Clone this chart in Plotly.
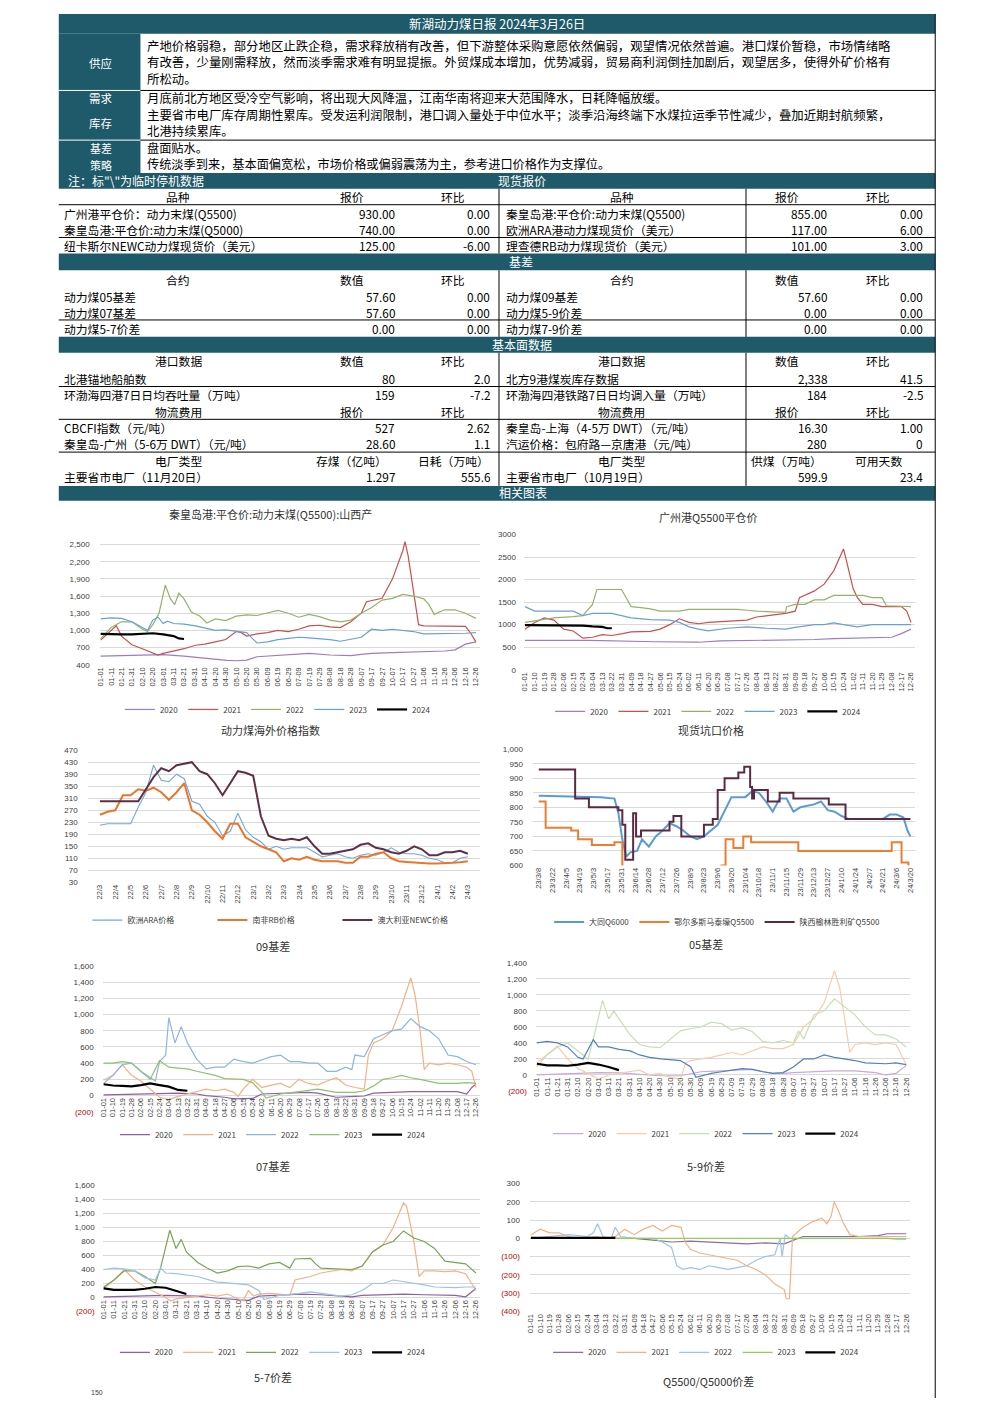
import datetime as dt
import plotly.graph_objects as go

W, H = 992, 1403
TEAL = "#1f5a6a"
CJK = "Noto Sans CJK SC"
NUM = "Liberation Sans"
GRID = "#d9d9d9"
RED_TICK = "#c00000"

# ---------------- 文本 / 表格数据 ----------------
REPORT_TITLE = "新湖动力煤日报 2024年3月26日"
SUPPLY_LINES = [
    "产地价格弱稳，部分地区止跌企稳，需求释放稍有改善，但下游整体采购意愿依然偏弱，观望情况依然普遍。港口煤价暂稳，市场情绪略",
    "有改善，少量刚需释放，然而淡季需求难有明显提振。外贸煤成本增加，优势减弱，贸易商利润倒挂加剧后，观望居多，使得外矿价格有",
    "所松动。",
]
DEMAND_LINES = [
    "月底前北方地区受冷空气影响，将出现大风降温，江南华南将迎来大范围降水，日耗降幅放缓。",
    "主要省市电厂库存周期性累库。受发运利润限制，港口调入量处于中位水平；淡季沿海终端下水煤拉运季节性减少，叠加近期封航频繁，",
    "北港持续累库。",
]
BASIS_LINES = [
    "盘面贴水。",
    "传统淡季到来，基本面偏宽松，市场价格或偏弱震荡为主，参考进口价格作为支撑位。",
]
NOTE_TEXT = '注：标"\\"为临时停机数据'

SPOT_HEAD = ("品种", "报价", "环比")
SPOT_L = [("广州港平仓价：动力末煤(Q5500)", "930.00", "0.00"),
          ("秦皇岛港:平仓价:动力末煤(Q5000)", "740.00", "0.00"),
          ("纽卡斯尔NEWC动力煤现货价（美元）", "125.00", "-6.00")]
SPOT_R = [("秦皇岛港:平仓价:动力末煤(Q5500)", "855.00", "0.00"),
          ("欧洲ARA港动力煤现货价（美元）", "117.00", "6.00"),
          ("理查德RB动力煤现货价（美元）", "101.00", "3.00")]

BASIS_HEAD = ("合约", "数值", "环比")
BASIS_L = [("动力煤05基差", "57.60", "0.00"),
           ("动力煤07基差", "57.60", "0.00"),
           ("动力煤5-7价差", "0.00", "0.00")]
BASIS_R = [("动力煤09基差", "57.60", "0.00"),
           ("动力煤5-9价差", "0.00", "0.00"),
           ("动力煤7-9价差", "0.00", "0.00")]

FUND_L = [("港口数据", "数值", "环比"),
          ("北港锚地船舶数", "80", "2.0"),
          ("环渤海四港7日日均吞吐量（万吨）", "159", "-7.2"),
          ("物流费用", "报价", "环比"),
          ("CBCFI指数（元/吨）", "527", "2.62"),
          ("秦皇岛-广州（5-6万 DWT）（元/吨）", "28.60", "1.1"),
          ("电厂类型", "存煤（亿吨）", "日耗（万吨）"),
          ("主要省市电厂（11月20日）", "1.297", "555.6")]
FUND_R = [("港口数据", "数值", "环比"),
          ("北方9港煤炭库存数据", "2,338", "41.5"),
          ("环渤海四港铁路7日日均调入量（万吨）", "184", "-2.5"),
          ("物流费用", "报价", "环比"),
          ("秦皇岛-上海（4-5万 DWT）（元/吨）", "16.30", "1.00"),
          ("汽运价格：包府路—京唐港（元/吨）", "280", "0"),
          ("电厂类型", "供煤（万吨）", "可用天数"),
          ("主要省市电厂（10月19日）", "599.9", "23.4")]
FUND_HEADER_ROWS = [0, 3, 6]

# ---------------- 图表数据 ----------------
TICKS_10 = ["01-01", "01-11", "01-21", "01-31", "02-10", "02-20", "03-01", "03-11", "03-21", "03-31",
            "04-10", "04-20", "04-30", "05-10", "05-20", "05-30", "06-09", "06-19", "06-29", "07-09",
            "07-19", "07-29", "08-08", "08-18", "08-28", "09-07", "09-17", "09-27", "10-07", "10-17",
            "10-27", "11-06", "11-16", "11-26", "12-06", "12-16", "12-26"]
TICKS_9 = ["01-01", "01-10", "01-19", "01-28", "02-06", "02-15", "02-24", "03-04", "03-13", "03-22",
           "03-31", "04-09", "04-18", "04-27", "05-06", "05-15", "05-24", "06-02", "06-11", "06-20",
           "06-29", "07-08", "07-17", "07-26", "08-04", "08-13", "08-22", "08-31", "09-09", "09-18",
           "09-27", "10-06", "10-15", "10-24", "11-02", "11-11", "11-20", "11-29", "12-08", "12-17",
           "12-26"]

# 秦皇岛港 Q5500 山西产
QHD = {
    "2020": [("01-01", 550), ("01-21", 560), ("02-10", 575), ("02-20", 580), ("03-01", 575), ("03-21", 550),
             ("04-10", 510), ("04-20", 490), ("05-01", 475), ("05-10", 470), ("05-20", 480), ("05-30", 540),
             ("06-09", 550), ("06-29", 580), ("07-09", 590), ("07-19", 600), ("08-08", 570), ("08-28", 560),
             ("09-07", 580), ("09-17", 600), ("10-07", 610), ("10-27", 620), ("11-16", 630), ("11-26", 640),
             ("12-06", 660), ("12-16", 760), ("12-26", 800)],
    "2021": [("01-01", 830), ("01-11", 1000), ("01-16", 1080), ("01-21", 900), ("01-31", 750), ("02-10", 680),
             ("02-20", 600), ("02-25", 570), ("03-01", 600), ("03-11", 640), ("03-21", 680), ("04-01", 740),
             ("04-10", 760), ("04-20", 800), ("04-30", 840), ("05-10", 980), ("05-15", 960), ("05-20", 900),
             ("05-30", 940), ("06-09", 960), ("06-19", 1000), ("06-29", 980), ("07-09", 1020), ("07-19", 1080),
             ("07-29", 1090), ("08-08", 1060), ("08-18", 1050), ("08-28", 1150), ("09-07", 1300), ("09-12", 1500),
             ("09-27", 1560), ("10-07", 1900), ("10-12", 2150), ("10-17", 2400), ("10-19", 2550), ("10-22", 2300),
             ("10-27", 1700), ("11-01", 1100), ("11-06", 1080), ("11-26", 1080), ("12-06", 1080), ("12-16", 1070),
             ("12-21", 950), ("12-26", 800)],
    "2022": [("01-01", 850), ("01-11", 1050), ("01-21", 1150), ("01-31", 1150), ("02-10", 1020), ("02-15", 980),
             ("02-20", 1100), ("02-26", 1300), ("03-03", 1790), ("03-08", 1550), ("03-12", 1450), ("03-16", 1650),
             ("03-21", 1550), ("03-28", 1320), ("04-05", 1250), ("04-12", 1130), ("04-20", 1200), ("04-30", 1170),
             ("05-10", 1250), ("05-20", 1270), ("05-30", 1260), ("06-09", 1300), ("06-19", 1350), ("06-29", 1300),
             ("07-09", 1230), ("07-19", 1280), ("07-29", 1240), ("08-08", 1180), ("08-18", 1150), ("08-28", 1180),
             ("09-07", 1300), ("09-17", 1400), ("09-27", 1530), ("10-07", 1560), ("10-17", 1630), ("10-27", 1600),
             ("11-06", 1550), ("11-11", 1450), ("11-16", 1280), ("11-26", 1360), ("12-06", 1360), ("12-16", 1300),
             ("12-26", 1210)],
    "2023": [("01-01", 1200), ("01-11", 1220), ("01-21", 1210), ("01-31", 1150), ("02-10", 1050), ("02-15", 1000),
             ("02-20", 1180), ("02-25", 1230), ("03-01", 1120), ("03-05", 1160), ("03-11", 1120), ("03-21", 1110),
             ("04-01", 1080), ("04-10", 1040), ("04-20", 1000), ("04-30", 1010), ("05-10", 980), ("05-20", 960),
             ("05-25", 870), ("05-30", 780), ("06-09", 800), ("06-19", 840), ("06-29", 860), ("07-09", 880),
             ("07-19", 870), ("07-29", 860), ("08-08", 840), ("08-18", 810), ("08-28", 840), ("09-07", 880),
             ("09-17", 1020), ("09-27", 1000), ("10-07", 1020), ("10-17", 1000), ("10-27", 980), ("11-06", 940),
             ("11-16", 940), ("11-26", 950), ("12-06", 950), ("12-16", 950), ("12-26", 960)],
    "2024": [("01-01", 940), ("01-11", 930), ("01-21", 930), ("01-31", 930), ("02-10", 940), ("02-20", 950),
             ("03-01", 930), ("03-11", 900), ("03-16", 860), ("03-21", 850)],
}

# 广州港 Q5500 平仓价
GZ = {
    "2020": [("01-01", 650), ("03-01", 650), ("05-01", 620), ("06-11", 610), ("07-01", 640), ("08-01", 650),
             ("09-01", 650), ("09-27", 670), ("10-15", 690), ("11-11", 700), ("12-08", 720), ("12-17", 800),
             ("12-26", 900)],
    "2021": [("01-01", 900), ("01-10", 1050), ("01-19", 1150), ("01-28", 1100), ("02-06", 900), ("02-15", 860),
             ("02-24", 700), ("03-04", 720), ("03-13", 780), ("03-22", 760), ("04-01", 800), ("04-09", 840),
             ("04-27", 850), ("05-06", 900), ("05-15", 1000), ("05-24", 1130), ("06-02", 1050), ("06-11", 1020),
             ("06-20", 1050), ("07-08", 1080), ("07-26", 1100), ("08-04", 1170), ("08-13", 1200), ("08-31", 1250),
             ("09-09", 1300), ("09-13", 1600), ("09-27", 1750), ("10-06", 1900), ("10-15", 2200), ("10-24", 2680),
             ("10-27", 2400), ("11-02", 1800), ("11-06", 1600), ("11-11", 1450), ("11-20", 1450), ("11-29", 1400),
             ("12-17", 1400), ("12-22", 1300), ("12-26", 1050)],
    "2022": [("01-01", 1050), ("01-28", 1150), ("02-15", 1180), ("02-24", 1200), ("03-04", 1450), ("03-08", 1780),
             ("03-31", 1780), ("04-05", 1550), ("04-09", 1400), ("04-18", 1380), ("04-27", 1350), ("05-06", 1300),
             ("05-24", 1300), ("06-02", 1340), ("07-17", 1340), ("07-26", 1320), ("08-04", 1300), ("08-22", 1280),
             ("08-31", 1280), ("09-01", 1400), ("09-09", 1450), ("09-18", 1450), ("09-27", 1550), ("10-06", 1550),
             ("10-15", 1650), ("11-11", 1650), ("11-20", 1600), ("11-29", 1600), ("12-03", 1420), ("12-26", 1400)],
    "2023": [("01-01", 1400), ("01-10", 1300), ("02-06", 1300), ("02-15", 1300), ("02-24", 1200), ("03-04", 1250),
             ("03-22", 1250), ("03-31", 1200), ("04-09", 1150), ("04-27", 1110), ("05-15", 1100), ("05-24", 1050),
             ("06-02", 950), ("06-11", 900), ("06-20", 860), ("07-08", 920), ("07-26", 950), ("08-13", 920),
             ("08-31", 900), ("09-09", 940), ("09-27", 1000), ("10-06", 1000), ("10-15", 1040), ("10-24", 1000),
             ("11-06", 950), ("11-20", 1000), ("12-08", 1000), ("12-26", 1000)],
    "2024": [("01-01", 990), ("02-15", 990), ("02-24", 980), ("03-04", 960), ("03-13", 950), ("03-18", 920),
             ("03-22", 920)],
}

# 动力煤海外价格指数（半月一个点，22/3 ~ 24/3）
OVERSEA_TICKS = ["22/3", "22/4", "22/5", "22/6", "22/7", "22/8", "22/9", "22/10", "22/11", "22/12",
                 "23/1", "23/2", "23/3", "23/4", "23/5", "23/6", "23/7", "23/8", "23/9", "23/10",
                 "23/11", "23/12", "24/1", "24/2", "24/3"]
ARA = [220, 225, 225, 225, 225, 280, 330, 420, 370, 365, 390, 375, 300, 290, 250, 230, 185, 200, 260, 205,
       180, 165, 140, 150, 140, 145, 145, 145, 130, 115, 120, 125, 115, 110, 120, 125, 120, 130, 145, 130,
       125, 125, 120, 110, 105, 95, 95, 110, 115]
RB = [255, 265, 270, 320, 320, 340, 335, 345, 330, 305, 330, 360, 270, 255, 230, 200, 175, 225, 225, 180,
      165, 150, 140, 130, 100, 110, 105, 115, 105, 100, 100, 100, 95, 95, 115, 115, 125, 130, 110, 100,
      98, 96, 95, 93, 93, 93, 95, 97, 100]
NEWC = [300, 300, 300, 300, 300, 300, 340, 380, 410, 400, 420, 425, 430, 400, 390, 360, 320, 360, 400, 395,
        385, 250, 185, 175, 170, 175, 170, 180, 150, 125, 125, 130, 135, 140, 155, 160, 145, 140, 130, 125,
        135, 150, 140, 120, 120, 130, 130, 135, 125]

# 现货坑口价格
PIT_TICKS = ["2023-03-08", "2023-03-22", "2023-04-05", "2023-04-19", "2023-05-03", "2023-05-17", "2023-05-31",
             "2023-06-14", "2023-06-28", "2023-07-12", "2023-07-26", "2023-08-09", "2023-08-23", "2023-09-06",
             "2023-09-20", "2023-10-04", "2023-10-18", "2023-11-01", "2023-11-15", "2023-11-29", "2023-12-13",
             "2023-12-27", "2024-01-10", "2024-01-24", "2024-02-07", "2024-02-21", "2024-03-06", "2024-03-20"]
DATONG = [("2023-03-08", 840), ("2023-05-10", 835), ("2023-05-24", 830), ("2023-05-28", 780), ("2023-06-01", 690),
          ("2023-06-05", 630), ("2023-06-09", 645), ("2023-06-16", 650), ("2023-06-21", 690), ("2023-06-28", 665),
          ("2023-07-05", 700), ("2023-07-12", 720), ("2023-07-19", 745), ("2023-07-26", 735), ("2023-08-02", 720),
          ("2023-08-09", 700), ("2023-08-16", 690), ("2023-08-23", 700), ("2023-09-06", 740), ("2023-09-13", 790),
          ("2023-09-20", 835), ("2023-10-04", 835), ("2023-10-11", 855), ("2023-10-18", 850), ("2023-10-25", 820),
          ("2023-11-01", 785), ("2023-11-08", 830), ("2023-11-15", 830), ("2023-11-22", 785), ("2023-11-29", 800),
          ("2023-12-13", 810), ("2023-12-20", 820), ("2023-12-27", 790), ("2024-01-03", 785), ("2024-01-10", 770),
          ("2024-01-17", 760), ("2024-02-21", 760), ("2024-02-28", 775), ("2024-03-06", 775), ("2024-03-13", 765),
          ("2024-03-17", 720), ("2024-03-20", 700)]
MATAIHAO = [("2023-03-08", 820), ("2023-03-15", 730), ("2023-04-10", 720), ("2023-04-17", 690), ("2023-05-01", 670),
            ("2023-05-24", 680), ("2023-06-01", 560), ("2023-09-10", 600), ("2023-09-14", 690), ("2023-09-22", 660),
            ("2023-10-02", 700), ("2023-10-10", 680), ("2023-11-27", 650), ("2024-03-01", 680), ("2024-03-11", 610),
            ("2024-03-18", 590), ("2024-03-20", 590)]
YULIN = [("2023-03-08", 930), ("2023-04-14", 830), ("2023-04-28", 800), ("2023-05-28", 790), ("2023-06-01", 740),
         ("2023-06-04", 620), ("2023-06-12", 780), ("2023-06-15", 700), ("2023-06-20", 720), ("2023-07-19", 750),
         ("2023-07-23", 770), ("2023-07-31", 700), ("2023-08-23", 740), ("2023-09-01", 760), ("2023-09-06", 860),
         ("2023-09-13", 900), ("2023-09-27", 920), ("2023-10-03", 940), ("2023-10-09", 870), ("2023-10-11", 830),
         ("2023-10-13", 860), ("2023-10-27", 820), ("2023-11-08", 850), ("2023-11-22", 830), ("2023-12-28", 810),
         ("2024-01-14", 760), ("2024-03-20", 760)]

# 09基差
B09 = {
    "2020": [("01-01", 10), ("02-06", 15), ("02-24", 25), ("03-13", 30), ("03-31", 20), ("04-09", 0), ("04-27", -20),
             ("05-06", -40), ("05-24", -35), ("06-02", 20), ("06-29", 30), ("07-17", 40), ("07-26", 30),
             ("08-13", -20), ("08-31", -10), ("09-09", -5), ("09-18", 30), ("10-06", 40), ("10-24", 50),
             ("11-11", 50), ("12-08", 50), ("12-17", 20), ("12-22", 100), ("12-26", 140)],
    "2021": [("01-01", 190), ("01-10", 250), ("01-19", 380), ("01-28", 250), ("02-06", 180), ("02-15", 80),
             ("02-24", -20), ("03-04", -50), ("03-13", -10), ("03-22", 20), ("03-31", 50), ("04-09", 80),
             ("04-18", 60), ("04-27", 80), ("05-06", 40), ("05-10", -10), ("05-15", 80), ("05-24", 200),
             ("06-02", 100), ("06-11", 130), ("06-20", 150), ("06-29", 100), ("07-08", 200), ("07-17", 150),
             ("07-26", 130), ("08-04", 180), ("08-13", 220), ("08-22", 130), ("08-31", 100), ("09-09", 80),
             ("09-13", 500), ("09-18", 650), ("09-27", 700), ("10-06", 800), ("10-15", 1100), ("10-24", 1450),
             ("10-28", 1250), ("11-02", 800), ("11-06", 320), ("11-11", 400), ("11-20", 380), ("11-29", 400),
             ("12-08", 380), ("12-17", 350), ("12-22", 300), ("12-26", 100)],
    "2022": [("01-01", 150), ("01-10", 250), ("01-19", 380), ("01-28", 400), ("02-06", 300), ("02-15", 220),
             ("02-20", 180), ("02-24", 420), ("03-01", 500), ("03-04", 960), ("03-10", 650), ("03-16", 850),
             ("03-22", 650), ("03-31", 450), ("04-09", 330), ("04-18", 350), ("04-27", 350), ("05-06", 450),
             ("05-15", 420), ("05-24", 400), ("06-02", 440), ("06-11", 480), ("06-20", 500), ("06-29", 420),
             ("07-08", 420), ("07-17", 400), ("07-26", 400), ("08-04", 300), ("08-13", 300), ("08-22", 350),
             ("08-28", 320), ("08-31", 500), ("09-09", 480), ("09-18", 700), ("09-27", 750), ("10-06", 800),
             ("10-15", 820), ("10-24", 950), ("11-02", 850), ("11-11", 800), ("11-20", 700), ("11-29", 500),
             ("12-08", 480), ("12-17", 420), ("12-26", 380)],
    "2023": [("01-01", 400), ("01-10", 400), ("01-19", 420), ("01-28", 400), ("02-06", 300), ("02-15", 200),
             ("02-24", 430), ("03-04", 350), ("03-13", 340), ("03-22", 330), ("03-31", 300), ("04-18", 250),
             ("04-27", 210), ("05-15", 200), ("05-24", 160), ("06-02", 40), ("06-06", -30), ("06-20", 20),
             ("07-08", 50), ("07-26", 80), ("08-13", 40), ("08-31", 40), ("09-09", 60), ("09-18", 120),
             ("09-27", 200), ("10-06", 220), ("10-15", 250), ("10-24", 220), ("11-02", 200), ("11-20", 150),
             ("12-08", 150), ("12-17", 160), ("12-26", 150)],
    "2024": [("01-01", 140), ("01-10", 125), ("01-19", 120), ("01-28", 115), ("02-06", 130), ("02-15", 150),
             ("02-24", 130), ("03-04", 110), ("03-13", 70), ("03-22", 60)],
}

# 05基差
B05 = {
    "2020": [("01-01", 0), ("02-01", 15), ("03-01", 30), ("03-21", 25), ("04-10", 10), ("04-30", -10),
             ("05-20", -10), ("06-09", 40), ("06-29", 50), ("07-19", 60), ("07-29", 70), ("08-18", 20),
             ("08-28", 20), ("09-07", 30), ("09-27", 40), ("10-17", 50), ("11-06", 50), ("11-26", 30),
             ("12-06", 0), ("12-16", 20), ("12-26", 120)],
    "2021": [("01-01", 150), ("01-11", 250), ("01-21", 360), ("01-31", 200), ("02-10", 80), ("02-20", 20),
             ("03-01", -50), ("03-11", 0), ("03-21", 20), ("04-01", 40), ("04-10", 60), ("04-20", 0),
             ("04-30", 20), ("05-10", -30), ("05-20", -50), ("05-25", 150), ("05-30", 180), ("06-09", 200),
             ("06-19", 220), ("06-29", 250), ("07-09", 280), ("07-19", 250), ("07-29", 300), ("08-08", 350),
             ("08-18", 330), ("08-28", 330), ("09-07", 380), ("09-17", 600), ("09-27", 700), ("10-07", 900),
             ("10-17", 1300), ("10-22", 1100), ("10-27", 700), ("11-01", 280), ("11-06", 380), ("11-16", 400),
             ("11-26", 380), ("12-06", 400), ("12-16", 380), ("12-26", 130)],
    "2022": [("01-01", 100), ("01-11", 250), ("01-21", 350), ("01-31", 400), ("02-10", 300), ("02-20", 200),
             ("02-25", 450), ("03-05", 930), ("03-11", 700), ("03-16", 800), ("03-21", 700), ("04-01", 500),
             ("04-10", 380), ("04-20", 350), ("04-30", 340), ("05-10", 450), ("05-20", 550), ("05-30", 580),
             ("06-09", 600), ("06-19", 660), ("06-29", 640), ("07-09", 560), ("07-19", 590), ("07-29", 540),
             ("08-08", 420), ("08-18", 400), ("08-28", 430), ("09-07", 400), ("09-12", 550), ("09-17", 450),
             ("09-27", 750), ("10-07", 800), ("10-17", 950), ("10-27", 850), ("11-06", 750), ("11-16", 600),
             ("11-26", 500), ("12-06", 500), ("12-16", 450), ("12-26", 350)],
    "2023": [("01-01", 400), ("01-11", 420), ("01-21", 400), ("01-31", 350), ("02-10", 220), ("02-15", 200),
             ("02-25", 440), ("03-01", 350), ("03-11", 350), ("03-21", 320), ("04-01", 300), ("04-10", 250),
             ("04-20", 220), ("05-01", 200), ("05-20", 180), ("05-30", 100), ("06-04", -30), ("06-19", 20),
             ("06-29", 40), ("07-09", 60), ("07-19", 80), ("07-29", 70), ("08-08", 40), ("08-18", 20),
             ("08-28", 30), ("09-07", 100), ("09-17", 200), ("09-27", 200), ("10-07", 250), ("10-17", 220),
             ("11-06", 180), ("11-16", 150), ("12-06", 140), ("12-16", 150), ("12-26", 130)],
    "2024": [("01-01", 140), ("01-11", 120), ("01-21", 120), ("01-31", 115), ("02-10", 130), ("02-20", 150),
             ("03-01", 130), ("03-11", 100), ("03-21", 60)],
}

# 07基差
B07 = {
    "2020": [("01-01", 10), ("02-01", 20), ("03-01", 30), ("04-01", 20), ("04-20", -10), ("05-10", -30),
             ("05-20", -40), ("05-30", 20), ("06-19", 30), ("07-09", 50), ("07-29", 40), ("08-18", 20),
             ("08-28", 10), ("09-07", 30), ("09-27", 40), ("10-17", 50), ("11-06", 40), ("11-26", 40),
             ("12-06", 30), ("12-16", 10), ("12-26", 130)],
    "2021": [("01-01", 130), ("01-11", 250), ("01-21", 400), ("01-31", 250), ("02-10", 150), ("02-20", 80),
             ("03-01", 0), ("03-06", -50), ("03-11", -20), ("03-21", 0), ("04-01", 20), ("04-10", 40),
             ("04-20", 20), ("04-30", 50), ("05-10", -20), ("05-15", -40), ("05-20", 100), ("05-25", 20),
             ("05-30", 50), ("06-09", 60), ("06-19", 50), ("06-29", 30), ("07-04", 250), ("07-19", 300),
             ("07-29", 350), ("08-08", 380), ("08-18", 400), ("08-28", 380), ("09-07", 450), ("09-17", 650),
             ("09-27", 750), ("10-07", 1000), ("10-17", 1350), ("10-20", 1300), ("10-27", 800), ("11-01", 300),
             ("11-06", 380), ("11-16", 380), ("11-26", 370), ("12-06", 380), ("12-16", 340), ("12-26", 100)],
    "2022": [("01-01", 150), ("01-11", 250), ("01-21", 380), ("01-31", 380), ("02-10", 300), ("02-20", 200),
             ("02-25", 420), ("03-01", 700), ("03-05", 960), ("03-11", 700), ("03-16", 830), ("03-21", 650),
             ("04-01", 500), ("04-10", 420), ("04-20", 350), ("04-30", 380), ("05-10", 440), ("05-20", 450),
             ("05-30", 420), ("06-09", 480), ("06-19", 500), ("06-29", 420), ("07-04", 550), ("07-19", 560),
             ("07-24", 480), ("07-29", 420), ("08-08", 410), ("08-18", 410), ("08-28", 400), ("09-07", 450),
             ("09-17", 650), ("09-27", 750), ("10-07", 800), ("10-17", 950), ("10-27", 850), ("11-06", 800),
             ("11-16", 700), ("11-26", 520), ("12-06", 500), ("12-16", 480), ("12-26", 350)],
    "2023": [("01-01", 400), ("01-11", 420), ("01-21", 410), ("01-31", 380), ("02-10", 280), ("02-20", 250),
             ("02-25", 420), ("03-01", 350), ("03-11", 340), ("03-21", 320), ("04-01", 300), ("04-10", 260),
             ("04-20", 220), ("04-30", 210), ("05-10", 200), ("05-20", 180), ("05-30", 100), ("06-04", -30),
             ("06-19", 30), ("06-29", 40), ("07-09", 60), ("07-19", 80), ("07-29", 60), ("08-08", 40),
             ("08-18", 20), ("08-28", 40), ("09-07", 100), ("09-17", 200), ("09-27", 200), ("10-07", 250),
             ("10-17", 230), ("11-06", 180), ("11-16", 150), ("12-06", 140), ("12-16", 150), ("12-26", 150)],
    "2024": [("01-01", 130), ("01-11", 110), ("01-21", 110), ("01-31", 110), ("02-10", 125), ("02-20", 150),
             ("03-01", 140), ("03-11", 100), ("03-21", 50)],
}

# 5-9价差
S59 = {
    "2020": [("01-01", 0), ("04-09", 0), ("04-27", -10), ("05-15", -20), ("06-02", -15), ("06-20", -20),
             ("07-08", -25), ("07-26", -30), ("08-13", -25), ("08-31", -30), ("09-09", -10), ("09-18", 10),
             ("10-06", 10), ("11-11", 10), ("11-29", 15), ("12-08", 25), ("12-26", 25)],
    "2021": [("01-01", 20), ("01-10", 50), ("01-19", 30), ("01-28", 30), ("02-06", 10), ("02-15", 0),
             ("03-04", 10), ("03-13", 0), ("03-22", 10), ("03-31", 50), ("04-09", 20), ("04-18", 50),
             ("04-27", 70), ("05-06", 40), ("05-15", 70), ("05-24", 60), ("05-28", -20), ("06-02", -60),
             ("06-11", -80), ("06-20", -90), ("06-29", -100), ("07-08", -110), ("07-17", -120), ("07-26", -150),
             ("08-04", -170), ("08-13", -200), ("08-22", -250), ("08-31", -280), ("09-02", -330), ("09-05", -330),
             ("09-08", 10), ("09-18", 60), ("09-27", 90), ("10-06", 110), ("10-11", 80), ("10-15", 120),
             ("10-18", 200), ("10-22", 150), ("10-27", 80), ("11-02", 20), ("11-11", 10), ("12-26", 10)],
    "2022": [("01-01", 0), ("01-19", 10), ("02-06", 20), ("02-24", 10), ("03-01", 30), ("03-05", 80),
             ("03-10", 10), ("03-18", 0), ("03-22", 60), ("03-27", 10), ("04-09", 0), ("04-27", 0),
             ("05-06", -20), ("05-15", -50), ("05-20", -150), ("05-26", -170), ("06-02", -160), ("06-11", -170),
             ("06-20", -150), ("06-29", -160), ("07-08", -170), ("07-17", -160), ("07-26", -150), ("08-04", -120),
             ("08-13", -100), ("08-22", -90), ("08-27", 0), ("08-29", -100), ("09-01", 20), ("09-05", 0),
             ("12-26", 0)],
    "2023": [("01-01", 0), ("04-01", 0), ("12-08", 0), ("12-17", -5), ("12-26", -5)],
    "2024": [("01-01", 2), ("03-22", 2)],
}

# ---------------- 颜色 ----------------
C_PRICE = {"2020": "#9e7cc1", "2021": "#cc4f4c", "2022": "#93b468", "2023": "#6a9fd4", "2024": "#000000"}
C_B09 = {"2020": "#8e5fa8", "2021": "#f4b183", "2022": "#8db4e2", "2023": "#8dc26f", "2024": "#000000"}
C_B05 = {"2020": "#c9a9d6", "2021": "#f8cbad", "2022": "#c5e0b4", "2023": "#4f81bd", "2024": "#000000"}
C_B07 = {"2020": "#8e5fa8", "2021": "#f4b183", "2022": "#77a653", "2023": "#9dc3e6", "2024": "#000000"}
C_S59 = {"2020": "#8e6aa8", "2021": "#f4b183", "2022": "#9dc3e6", "2023": "#92d050", "2024": "#000000"}


def px_x(x):
    return x / W


def px_y(y):
    return 1 - y / H


def doy(md):
    m, d = md.split("-")
    return (dt.date(2024, int(m), int(d)) - dt.date(2024, 1, 1)).days


def fmt(v, comma=True):
    s = f"{abs(v):,}" if comma else str(abs(v))
    if v < 0:
        return f"<span style='color:{RED_TICK}'>({s})</span>"
    return s


fig = go.Figure()


def text(x, y, s, size=12, color="black", anchor="left", family=CJK):
    fig.add_annotation(x=px_x(x), y=px_y(y), xref="paper", yref="paper", text=s, showarrow=False,
                       xanchor=anchor, yanchor="middle", font=dict(size=size, color=color, family=family))


def rect(x0, y0, x1, y1, color):
    fig.add_shape(type="rect", xref="paper", yref="paper", x0=px_x(x0), x1=px_x(x1),
                  y0=px_y(y1), y1=px_y(y0), fillcolor=color, line_width=0, layer="below")


def line(x0, y0, x1, y1, color="black", w=1):
    fig.add_shape(type="line", xref="paper", yref="paper", x0=px_x(x0), x1=px_x(x1),
                  y0=px_y(y0), y1=px_y(y1), line=dict(color=color, width=w))


# ---------------- 顶部文字块 ----------------
rect(55, 10, 935, 30, TEAL)
text(495, 20, REPORT_TITLE, size=12.5, color="white", anchor="center")
rect(55, 30, 137, 170, TEAL)
line(55, 87, 137, 87, "white")
line(55, 137, 137, 137, "white")
line(137, 87, 935, 87)
line(137, 137, 935, 137)
text(97, 59, "供应", size=11.5, color="white", anchor="center")
text(97, 95, "需求", size=11.5, color="white", anchor="center")
text(97, 120, "库存", size=11.5, color="white", anchor="center")
text(97, 145, "基差", size=11, color="white", anchor="center")
text(97, 162, "策略", size=11, color="white", anchor="center")
for i, s in enumerate(SUPPLY_LINES):
    text(142, 42 + i * 16.5, s, size=12.4)
for i, s in enumerate(DEMAND_LINES):
    text(142, 95 + i * 16.5, s, size=12.4)
for i, s in enumerate(BASIS_LINES):
    text(142, 145 + i * 16.5, s, size=12.2)

# ---------------- 表格 ----------------
rect(55, 170, 935, 186, TEAL)
text(62, 178, NOTE_TEXT, size=12, color="white")
text(520, 178, "现货报价", size=12, color="white", anchor="center")
rect(55, 251, 935, 268, TEAL)
text(519, 259, "基差", size=12, color="white", anchor="center")
rect(55, 335, 935, 351, TEAL)
text(520, 343, "基本面数据", size=12, color="white", anchor="center")
rect(55, 485, 935, 500, TEAL)
text(521, 492, "相关图表", size=12, color="white", anchor="center")

LEFT_COLS = dict(label=58, head=(175, 349, 451), val=395, chg=490)
RIGHT_COLS = dict(label=502, head=(620, 786, 878), val=828, chg=925)
TABLE_FONT = 11.8


def header_row(y, cells, cols):
    for c, s in zip(cols["head"], cells):
        text(c, y, s, size=TABLE_FONT, anchor="center")


def data_row(y, cells, cols):
    text(cols["label"], y, cells[0], size=TABLE_FONT)
    text(cols["val"], y, cells[1], size=TABLE_FONT, anchor="right")
    text(cols["chg"], y, cells[2], size=TABLE_FONT, anchor="right")


for cols, rows in ((LEFT_COLS, SPOT_L), (RIGHT_COLS, SPOT_R)):
    header_row(194, SPOT_HEAD, cols)
    for i, r in enumerate(rows):
        data_row(211 + i * 16.2, r, cols)
for cols, rows in ((LEFT_COLS, BASIS_L), (RIGHT_COLS, BASIS_R)):
    header_row(277, BASIS_HEAD, cols)
    for i, r in enumerate(rows):
        data_row(294 + i * 16.5, r, cols)
FUND_Y = [359, 376.5, 393, 410, 426, 442.5, 459, 476]
for cols, rows in ((LEFT_COLS, FUND_L), (RIGHT_COLS, FUND_R)):
    for i, r in enumerate(rows):
        if i in FUND_HEADER_ROWS:
            header_row(FUND_Y[i], r, cols)
        else:
            data_row(FUND_Y[i], r, cols)

for y in (202, 235, 318, 385, 418, 451):
    line(55, y, 935, y)
for y0, y1 in ((186, 251), (268, 335), (351, 485)):
    line(497, y0, 497, y1)
    line(745, y0, 745, y1)
line(935, 10, 935, 1403)

# ---------------- 图表 ----------------


def sfx(n):
    return "" if n == 1 else str(n)


def axes(n, xdom, ydom, xrange, xtickvals, xticktext, yrange, ytickvals, comma=True, xpos=None,
         xtype="linear", standoff=8):
    s = sfx(n)
    xa = dict(domain=[px_x(xdom[0]), px_x(xdom[1])], range=xrange, type=xtype, tickmode="array",
              tickvals=xtickvals, ticktext=xticktext, tickangle=-90,
              tickfont=dict(size=7.5, color="#404040", family=NUM), showgrid=False, zeroline=False,
              showline=False, ticks="", fixedrange=True)
    if xpos is None:
        xa["anchor"] = "y" + s
    else:
        xa["anchor"] = "free"
        xa["position"] = px_y(xpos)
    ya = dict(domain=[px_y(ydom[1]), px_y(ydom[0])], anchor="x" + s, range=yrange, tickmode="array",
              tickvals=ytickvals, ticktext=[fmt(v, comma) for v in ytickvals], gridcolor=GRID, gridwidth=1,
              zeroline=False, showline=False, ticks="", tickfont=dict(size=8, color="#404040", family=NUM),
              ticklabelstandoff=standoff, fixedrange=True)
    fig.update_layout({"xaxis" + s: xa, "yaxis" + s: ya})


def legend(n, cx, cy, entrywidth=None):
    name = "legend" + sfx(n)
    spec = dict(orientation="h", x=px_x(cx), y=px_y(cy), xanchor="center", yanchor="middle",
                font=dict(size=8, color="#404040", family=CJK), bgcolor="rgba(0,0,0,0)",
                itemwidth=30, tracegroupgap=0)
    if entrywidth:
        spec.update(entrywidth=entrywidth, entrywidthmode="pixels")
    fig.update_layout({name: spec})


def season(n, data, colors, width=1.2, bold=2.2):
    s = sfx(n)
    for year, pts in data.items():
        fig.add_trace(go.Scatter(
            x=[doy(p[0]) for p in pts], y=[p[1] for p in pts], mode="lines", name=year,
            line=dict(color=colors[year], width=bold if year == "2024" else width),
            xaxis="x" + s, yaxis="y" + s, legend="legend" + s, hoverinfo="skip"))


SEASON_RANGE = [-1, 364]
TITLE_FONT = 11

# 1 秦皇岛港
season(1, QHD, C_PRICE)
axes(1, (96, 478), (539.4, 665), SEASON_RANGE, [doy(t) for t in TICKS_10], TICKS_10,
     [400, 2580], [400, 700, 1000, 1300, 1600, 1900, 2200, 2500], standoff=9)
legend(1, 275, 710)
text(268, 513, "秦皇岛港:平仓价:动力末煤(Q5500):山西产", size=TITLE_FONT, color="#333333", anchor="center")

# 2 广州港
season(2, GZ, C_PRICE)
axes(2, (522, 915), (534, 670), SEASON_RANGE, [doy(t) for t in TICKS_9], TICKS_9,
     [0, 3000], [0, 500, 1000, 1500, 2000, 2500, 3000], comma=False, standoff=7)
legend(2, 707, 712)
text(707, 516, "广州港Q5500平仓价", size=TITLE_FONT, color="#333333", anchor="center")

# 3 海外价格指数
half_month = [i / 2 for i in range(len(ARA))]
for name, ys, col, w in (("欧洲ARA价格", ARA, "#6fa8dc", 1.1),
                         ("南非RB价格", RB, "#e8762b", 2),
                         ("澳大利亚NEWC价格", NEWC, "#5e2f45", 2)):
    fig.add_trace(go.Scatter(x=half_month, y=ys, mode="lines", name=name, line=dict(color=col, width=w),
                             xaxis="x3", yaxis="y3", legend="legend3", hoverinfo="skip"))
axes(3, (84, 478), (751, 884), [-0.8, 24.8], list(range(len(OVERSEA_TICKS))), OVERSEA_TICKS,
     [30, 470], list(range(30, 471, 40)), standoff=9)
legend(3, 272, 922, entrywidth=80)
text(268, 731, "动力煤海外价格指数", size=TITLE_FONT, color="#333333", anchor="center")

# 4 现货坑口价格
for name, pts, col, shape in (("大同Q6000", DATONG, "#5b9bd5", "linear"),
                              ("鄂尔多斯马泰壕Q5500", MATAIHAO, "#ed7d31", "hv"),
                              ("陕西榆林胜利矿Q5500", YULIN, "#5b2a42", "hv")):
    fig.add_trace(go.Scatter(x=[p[0] for p in pts], y=[p[1] for p in pts], mode="lines", name=name,
                             line=dict(color=col, width=2, shape=shape),
                             xaxis="x4", yaxis="y4", legend="legend4", hoverinfo="skip"))
pit_labels = [f"{d[2:4]}/{int(d[5:7])}/{int(d[8:10])}" for d in PIT_TICKS]
axes(4, (531, 915), (750, 867), ["2023-03-02", "2024-03-25"], PIT_TICKS, pit_labels,
     [600, 1000], list(range(600, 1001, 50)), xtype="date", standoff=9)
legend(4, 716, 924)
text(710, 731, "现货坑口价格", size=TITLE_FONT, color="#333333", anchor="center")

# 5 09基差
season(5, B09, C_B09, width=1.2, bold=2.2)
axes(5, (99, 478), (968, 1115), SEASON_RANGE, [doy(t) for t in TICKS_9], TICKS_9,
     [-200, 1600], list(range(-200, 1601, 200)), xpos=1098.5, standoff=8)
legend(5, 270, 1138)
text(270, 948, "09基差", size=TITLE_FONT, color="#333333", anchor="center")

# 6 05基差
season(6, B05, C_B05)
axes(6, (534, 910), (965, 1094), SEASON_RANGE, [doy(t) for t in TICKS_10], TICKS_10,
     [-200, 1400], list(range(-200, 1401, 200)), xpos=1078, standoff=8)
legend(6, 705, 1137)
text(705, 946, "05基差", size=TITLE_FONT, color="#333333", anchor="center")

# 7 07基差
season(7, B07, C_B07)
axes(7, (99, 478), (1189, 1316), SEASON_RANGE, [doy(t) for t in TICKS_10], TICKS_10,
     [-200, 1600], list(range(-200, 1601, 200)), xpos=1302, standoff=7)
legend(7, 270, 1357)
text(270, 1170, "07基差", size=TITLE_FONT, color="#333333", anchor="center")

# 8 5-9价差
season(8, S59, C_S59)
axes(8, (528, 910), (1187, 1316), SEASON_RANGE, [doy(t) for t in TICKS_9], TICKS_9,
     [-400, 300], list(range(-400, 301, 100)), standoff=9)
legend(8, 705, 1357)
text(705, 1170, "5-9价差", size=TITLE_FONT, color="#333333", anchor="center")

# 下一行（页面截断）
text(270, 1382, "5-7价差", size=TITLE_FONT, color="#333333", anchor="center")
text(707, 1386, "Q5500/Q5000价差", size=TITLE_FONT, color="#333333", anchor="center")
text(93, 1397, "150", size=7, color="#404040", anchor="center", family=NUM)

fig.update_layout(width=W, height=H, margin=dict(l=0, r=0, t=0, b=0), paper_bgcolor="white",
                  plot_bgcolor="white", showlegend=True, font=dict(family=CJK))
# 页面默认 body 边距会让图整体偏移，去掉；工具栏也不要
fig.write_html("out.html", config={"displayModeBar": False},
               post_script="document.body.style.margin='0';document.body.style.overflow='hidden';")
